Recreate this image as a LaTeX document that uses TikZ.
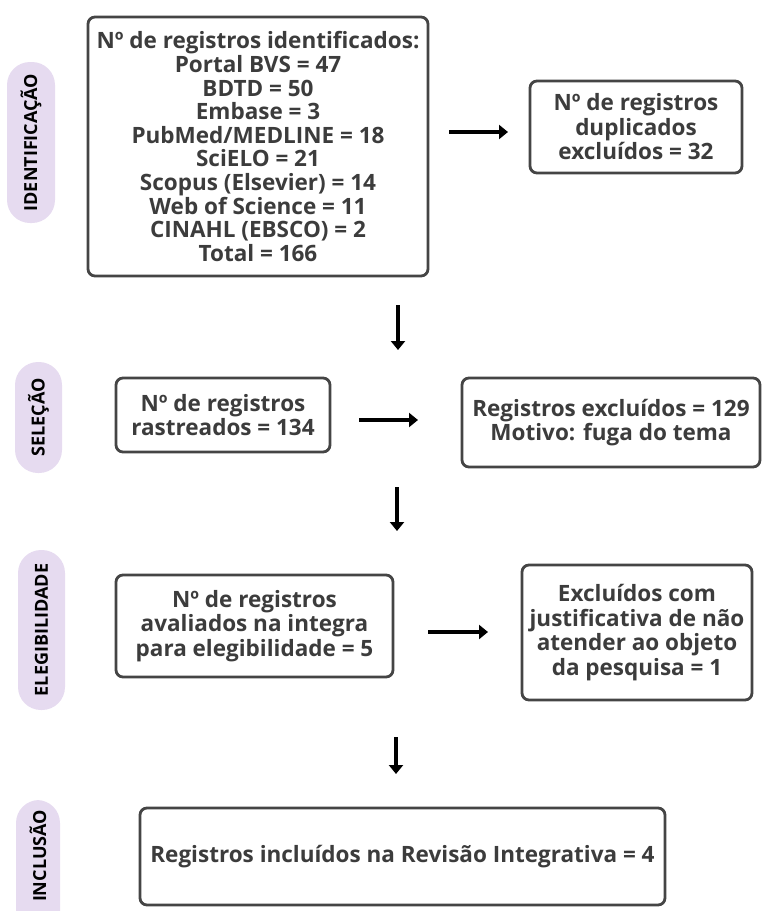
\documentclass[tikz,border=0pt]{standalone}
\usepackage{fontspec}
\setmainfont{Open Sans}
\newfontfamily\pillfont{Open Sans}
\usetikzlibrary{arrows.meta}
\definecolor{boxline}{HTML}{454545}
\definecolor{boxtext}{HTML}{3C3C3C}
\definecolor{pillfill}{HTML}{E6DBF0}
\tikzset{
  box/.style={draw=boxline, line width=2.8pt, rounded corners=7pt, align=center,
    font=\fontsize{22.5}{24.5}\selectfont\bfseries, text=boxtext, inner sep=0pt},
  tightbox/.style={box, font=\fontsize{22.5}{23.6}\selectfont\bfseries},
  pill/.style={fill=pillfill, rounded corners=23pt, inner sep=0pt},
  pilltext/.style={rotate=90, font=\pillfont\fontsize{18}{20}\selectfont\bfseries, text=black},
  arr/.style={line width=3.8pt, -{Triangle[width=14pt,length=9pt]}},
}
\begin{document}
\begin{tikzpicture}[x=1pt,y=-1pt]
\useasboundingbox (0,0) rectangle (762,911);
% phase pills
\node[pill, minimum width=48pt, minimum height=161pt] (p1) at (31,142.5) {};
\node[pilltext] (t1) at (p1) {IDENTIFICAÇÃO};
\node[pill, minimum width=47pt, minimum height=111pt] (p2) at (38.5,417.5) {};
\node[pilltext] (t2) at (p2) {SELEÇÃO};
\node[pill, minimum width=47pt, minimum height=160pt] (p3) at (41.5,630) {};
\node[pilltext] (t3) at (p3) {ELEGIBILIDADE};
\node[pill, minimum width=44pt, minimum height=140pt] (p4) at (38,870) {};
\node[pilltext] (t4) at (38,856) {INCLUSÃO};
% boxes
\node[tightbox, minimum width=340pt, minimum height=259pt] (b1) at (258,146.5) {Nº de registros identificados:\\Portal BVS = 47\\BDTD = 50\\Embase = 3\\PubMed/MEDLINE = 18\\SciELO = 21\\Scopus (Elsevier) = 14\\Web of Science = 11\\CINAHL (EBSCO) = 2\\Total = 166};
\node[box, minimum width=212pt, minimum height=92pt] (b2) at (636,127) {Nº de registros\\duplicados\\excluídos = 32};
\node[box, minimum width=214pt, minimum height=74pt] (b3) at (223,415) {Nº de registros\\rastreados = 134};
\node[box, minimum width=298pt, minimum height=89pt] (b4) at (611,422.5) {Registros excluídos = 129\\Motivo: fuga do tema};
\node[box, minimum width=277pt, minimum height=102pt] (b5) at (254.5,626) {Nº de registros\\avaliados na integra\\para elegibilidade = 5};
\node[box, minimum width=230pt, minimum height=135pt] (b6) at (637,632.5) {Excluídos com\\justificativa de não\\atender ao objeto\\da pesquisa = 1};
\node[box, minimum width=525pt, minimum height=97pt] (b7) at (402.5,856.5) {Registros incluídos na Revisão Integrativa = 4};
% arrows
\coordinate (a1s) at (449,132); \coordinate (a1e) at (508,132);
\coordinate (d1s) at (398,305); \coordinate (d1e) at (398,350);
\coordinate (a2s) at (359,420); \coordinate (a2e) at (418,420);
\coordinate (d2s) at (397,487); \coordinate (d2e) at (397,531);
\coordinate (a3s) at (428,632); \coordinate (a3e) at (488,632);
\coordinate (d3s) at (396,737); \coordinate (d3e) at (396,774);
\draw[arr] (a1s) -- (a1e);
\draw[arr] (d1s) -- (d1e);
\draw[arr] (a2s) -- (a2e);
\draw[arr] (d2s) -- (d2e);
\draw[arr] (a3s) -- (a3e);
\draw[arr] (d3s) -- (d3e);
\end{tikzpicture}
\end{document}
